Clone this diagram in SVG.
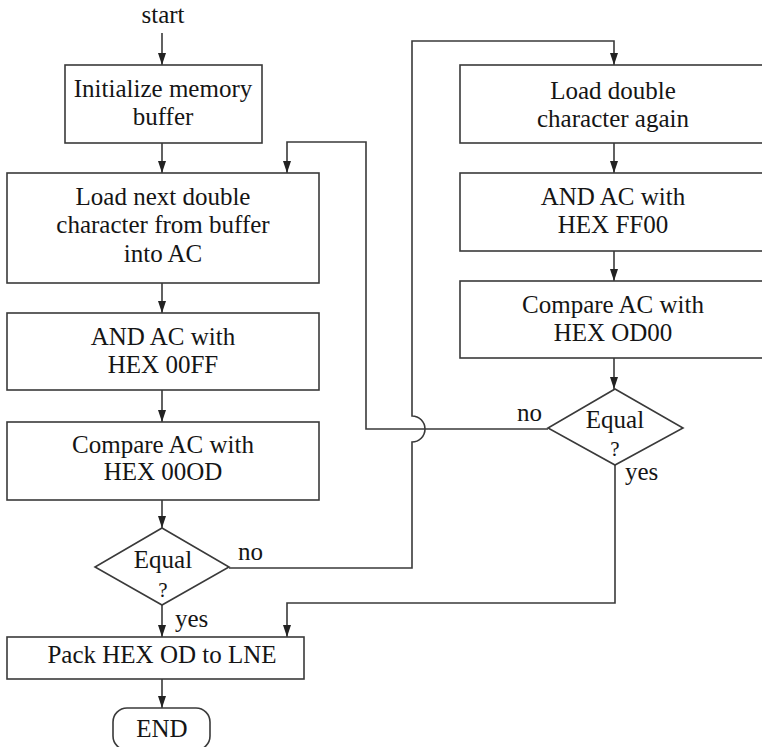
<svg xmlns="http://www.w3.org/2000/svg" width="762" height="747" viewBox="0 0 762 747">
<defs>
<marker id="ah" markerUnits="userSpaceOnUse" markerWidth="12" markerHeight="8" refX="12" refY="4" orient="auto">
<path d="M0,0 L12,4 L0,8 z" fill="#222"/>
</marker>
<style>
.box{fill:#fff;stroke:#3a3a3a;stroke-width:1.6}
.t{font-family:'Liberation Serif','Times New Roman',serif;font-size:25px;fill:#151515;text-anchor:middle}
.l{font-family:'Liberation Serif','Times New Roman',serif;font-size:25px;fill:#151515}
.q{font-size:21px}
.c{fill:none;stroke:#3a3a3a;stroke-width:1.6}
.a{marker-end:url(#ah)}
</style>
</defs>
<rect x="0" y="0" width="762" height="747" fill="#fff"/>

<g id="connectors">
<path class="c a" d="M162,33 V65"/>
<path class="c a" d="M162,143 V173"/>
<path class="c a" d="M162,283 V313"/>
<path class="c a" d="M162,390 V422"/>
<path class="c a" d="M162,500 V528"/>
<path class="c a" d="M162,605 V637"/>
<path class="c a" d="M162,679 V708"/>
<path class="c a" d="M229,568 H412 V442 A13,13 0 0 0 412,416 V41 H614 V65"/>
<path class="c a" d="M614,143 V173"/>
<path class="c a" d="M614,251 V281"/>
<path class="c a" d="M614,358 V389"/>
<path class="c a" d="M548,429 H366 V142 H287 V173"/>
<path class="c a" d="M615,465 V603 H287 V637"/>
</g>

<g id="start"><text class="t" x="163" y="23">start</text></g>

<g id="init">
<rect class="box" x="65" y="65" width="197" height="78"/>
<text class="t" x="163" y="97">Initialize memory</text>
<text class="t" x="163" y="125">buffer</text>
</g>

<g id="loadNext">
<rect class="box" x="7" y="173" width="312" height="110"/>
<text class="t" x="163" y="205">Load next double</text>
<text class="t" x="163" y="233">character from buffer</text>
<text class="t" x="163" y="262">into AC</text>
</g>

<g id="and00FF">
<rect class="box" x="7" y="313" width="312" height="77"/>
<text class="t" x="163" y="345">AND AC with</text>
<text class="t" x="163" y="373">HEX 00FF</text>
</g>

<g id="cmp000D">
<rect class="box" x="7" y="422" width="312" height="78"/>
<text class="t" x="163" y="453">Compare AC with</text>
<text class="t" x="163" y="480">HEX 00OD</text>
</g>

<g id="equal1">
<polygon class="box" points="162,528 229,567 162,605 95,567"/>
<text class="t" x="163" y="568">Equal</text>
<text class="t q" x="163" y="597">?</text>
<text class="l" x="238" y="560">no</text>
<text class="l" x="175" y="627">yes</text>
</g>

<g id="pack">
<rect class="box" x="7" y="637" width="297" height="42"/>
<text class="t" x="162" y="663">Pack HEX OD to LNE</text>
</g>

<g id="end">
<rect class="box" x="113" y="708" width="97" height="42" rx="14" ry="14"/>
<text class="t" x="162" y="737">END</text>
</g>

<g id="loadAgain">
<rect class="box" x="460" y="65" width="308" height="78"/>
<text class="t" x="613" y="99">Load double</text>
<text class="t" x="613" y="127">character again</text>
</g>

<g id="andFF00">
<rect class="box" x="460" y="173" width="308" height="78"/>
<text class="t" x="613" y="205">AND AC with</text>
<text class="t" x="613" y="233">HEX FF00</text>
</g>

<g id="cmpOD00">
<rect class="box" x="460" y="281" width="308" height="77"/>
<text class="t" x="613" y="313">Compare AC with</text>
<text class="t" x="613" y="341">HEX OD00</text>
</g>

<g id="equal2">
<polygon class="box" points="615,389 683,428 615,465 548,428"/>
<text class="t" x="615" y="428">Equal</text>
<text class="t q" x="615" y="456">?</text>
<text class="l" x="517" y="421">no</text>
<text class="l" x="625" y="480">yes</text>
</g>
</svg>
